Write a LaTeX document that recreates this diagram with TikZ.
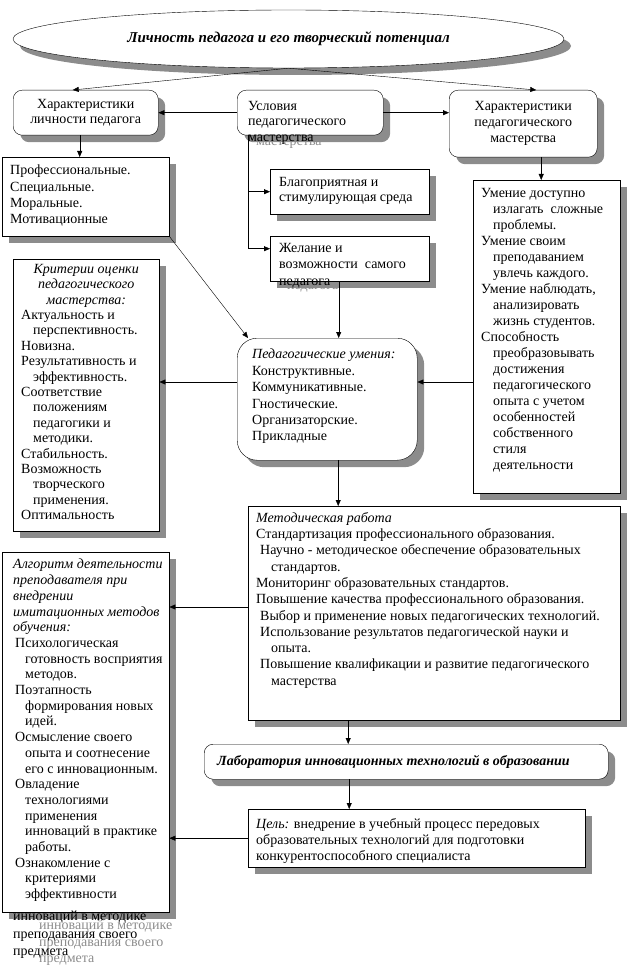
\documentclass[tikz,border=0pt]{standalone}
\usepackage{fontspec}
\setmainfont{Liberation Serif}
\usetikzlibrary{shapes.geometric,shadows,arrows.meta,calc}

\newcommand{\fs}{\fontsize{14}{16.3}\selectfont}
\newcommand{\hind}{\hspace*{12pt}}

\tikzset{
	sh/.style={general shadow={fill=black!45,shadow xshift=7pt,shadow yshift=-7pt}},
	frame/.style={draw,fill=white,inner sep=0pt,anchor=north west,sh},
	rframe/.style={frame,rounded corners=9pt},
	txt/.style={inner sep=0pt,anchor=north west,align=left,font=\fs},
	ghost/.style={txt,text=black!45},
	arr/.style={-{Triangle[length=6pt,width=5pt]}},
}

\begin{document}
\begin{tikzpicture}[x=1pt,y=-1pt]
	\useasboundingbox (0,0) rectangle (628,973);

	\node[ellipse,draw,fill=white,inner sep=0pt,minimum width=551pt,minimum height=58pt,sh,
		font=\fontsize{15}{16}\selectfont\bfseries\itshape] (ell) at (288.5,39)
		{Личность педагога и его творческий потенциал};

	\node[rframe,minimum width=145pt,minimum height=45pt,align=center,
		font=\fontsize{14}{15}\selectfont] (lich) at (13,90) {Характеристики\\личности педагога};
	\node[rframe,minimum width=146pt,minimum height=45pt] (cond) at (237,90) {};
	\node[rframe,minimum width=148pt,minimum height=67pt,align=center,
		font=\fontsize{14}{16}\selectfont] (mast) at (449,90) {Характеристики\\педагогического\\мастерства};
	\node[frame,minimum width=167pt,minimum height=79pt] (prof) at (2,157) {};
	\node[frame,minimum width=159pt,minimum height=45pt] (blag) at (270,169) {};
	\node[frame,minimum width=159pt,minimum height=45pt] (zhel) at (270,236) {};
	\node[frame,minimum width=147pt,minimum height=313pt] (umenie) at (473,180) {};
	\node[frame,minimum width=146pt,minimum height=272pt] (krit) at (13,259) {};
	\node[rframe,rounded corners=20pt,minimum width=180pt,minimum height=122pt] (umen) at (237,338) {};
	\node[frame,minimum width=372pt,minimum height=214pt] (metod) at (248,506) {};
	\node[frame,minimum width=167pt,minimum height=360pt] (alg) at (2,552) {};
	\node[rframe,minimum width=404pt,minimum height=35pt] (lab) at (204,744) {};
	\node[frame,minimum width=337pt,minimum height=58pt] (goal) at (248,809) {};

	\draw[arr] (ell.south) -- ([xshift=-13pt]lich.north);
	\draw[arr] (ell.south) -- ([xshift=13pt]mast.north);
	\draw[arr] (cond.west) -- (lich.east);
	\draw[arr] (cond.east) -- (cond.east -| mast.west);
	\draw[arr] ([xshift=-6pt]lich.south) -- ([xshift=-6pt]lich.south |- prof.north);
	\coordinate (trunk) at ([xshift=11pt]cond.south west);
	\draw[arr] (trunk) |- ([yshift=10pt]zhel.west);
	\draw[arr] (trunk |- blag.west) -- (blag.west);
	\draw[arr] ([xshift=-11pt]zhel.south) -- ([xshift=-11pt]zhel.south |- umen.north);
	\draw[arr] ([xshift=18pt]mast.south) -- ([xshift=18pt]mast.south |- umenie.north);
	\draw[arr] (prof.south east) -- ([xshift=11pt]umen.north west);
	\draw[arr] (umenie.west |- 0,382) -- (umen.east |- 0,382);
	\draw[arr] (umen.west |- 0,382) -- (krit.east |- 0,382);
	\draw[arr] ([xshift=11pt]umen.south) -- ([xshift=11pt]umen.south |- metod.north);
	\draw[arr] ([xshift=-86pt]metod.south) -- ([xshift=-86pt]metod.south |- lab.north);
	\draw[arr] ([xshift=-57pt]lab.south) -- ([xshift=-57pt]lab.south |- goal.north);
	\draw[arr] (metod.west |- 0,607) -- (alg.east |- 0,607);
	\draw[arr] (goal.west) -- (goal.west -| alg.east);

	\node[ghost] at (256,139) {мастерства};
	\node[ghost] at (287,283) {педагога};
	\node[ghost,font=\fontsize{14}{16.5}\selectfont] at (39,920) {инноваций в методике\\преподавания своего\\предмета};

	\node[txt,font=\fontsize{14}{15.5}\selectfont] (condtxt) at (248,101) {Условия\\педагогического\\мастерства};
	\node[txt] (proftxt) at (10,165) {Профессиональные.\\Специальные.\\Моральные.\\Мотивационные};
	\node[txt,font=\fontsize{14}{15}\selectfont] (blagtxt) at (279,177) {Благоприятная и\\стимулирующая среда};
	\node[txt,font=\fontsize{14}{16.5}\selectfont] (zheltxt) at (279,243) {Желание и\\возможности\ \ самого\\педагога};
	\node[txt,font=\fontsize{14}{15.4}\selectfont] (krittxt) at (21,264) {
		\makebox[130pt][c]{\itshape Критерии оценки}\\
		\makebox[130pt][c]{\itshape педагогического}\\
		\makebox[130pt][c]{\itshape мастерства:}\\
		Актуальность и\\ \hind перспективность.\\ Новизна.\\
		Результативность и\\ \hind эффективность.\\
		Соответствие\\ \hind положениям\\ \hind педагогики и\\ \hind методики.\\
		Стабильность.\\ Возможность\\ \hind творческого\\ \hind применения.\\
		Оптимальность};
	\node[txt,font=\fontsize{14}{16}\selectfont] (umenietxt) at (481,188) {
		Умение доступно\\ \hind излагать\ \ сложные\\ \hind проблемы.\\
		Умение своим\\ \hind преподаванием\\ \hind увлечь каждого.\\
		Умение наблюдать,\\ \hind анализировать\\ \hind жизнь студентов.\\
		Способность\\ \hind преобразовывать\\ \hind достижения\\ \hind педагогического\\
		\hind опыта с учетом\\ \hind особенностей\\ \hind собственного\\ \hind стиля\\ \hind деятельности};
	\node[txt,font=\fontsize{14}{16.4}\selectfont] (umentxt) at (252,349) {
		{\itshape Педагогические умения:}\\ Конструктивные.\\ Коммуникативные.\\
		Гностические.\\ Организаторские.\\ Прикладные};
	\node[txt] (metodtxt) at (256,512) {
		{\itshape Методическая работа}\\
		Стандартизация профессионального образования.\\
		\hspace*{4pt}Научно - методическое обеспечение образовательных\\
		\hspace*{15pt}стандартов.\\
		Мониторинг образовательных стандартов.\\
		Повышение качества профессионального образования.\\
		\hspace*{4pt}Выбор и применение новых педагогических технологий.\\
		\hspace*{4pt}Использование результатов педагогической науки и\\
		\hspace*{15pt}опыта.\\
		\hspace*{4pt}Повышение квалификации и развитие педагогического\\
		\hspace*{15pt}мастерства};
	\node[txt,anchor=west,font=\fontsize{14}{16}\selectfont\bfseries\itshape] (labtxt) at (217,762)
		{Лаборатория инновационных технологий в образовании};
	\node[txt,font=\fontsize{14}{16}\selectfont] (goaltxt) at (256,818) {
		{\itshape Цель:} внедрение в учебный процесс передовых\\
		образовательных технологий для подготовки\\
		конкурентоспособного специалиста};
	\node[txt,font=\fontsize{14}{15.7}\selectfont] (algtxt) at (13,559) {
		{\itshape Алгоритм деятельности}\\ {\itshape преподавателя при}\\
		{\itshape внедрении}\\ {\itshape имитационных методов}\\ {\itshape обучения:}\\
		\hspace*{2pt}Психологическая\\ \hind готовность восприятия\\ \hind методов.\\
		\hspace*{2pt}Поэтапность\\ \hind формирования новых\\ \hind идей.\\
		\hspace*{2pt}Осмысление своего\\ \hind опыта и соотнесение\\ \hind его с инновационным.\\
		\hspace*{2pt}Овладение\\ \hind технологиями\\ \hind применения\\ \hind инноваций в практике\\ \hind работы.\\
		\hspace*{2pt}Ознакомление с\\ \hind критериями\\ \hind эффективности};
	\node[txt,font=\fontsize{14}{17.5}\selectfont] (algover) at (13,911) {инноваций в методике\\преподавания своего\\предмета};
\end{tikzpicture}
\end{document}
